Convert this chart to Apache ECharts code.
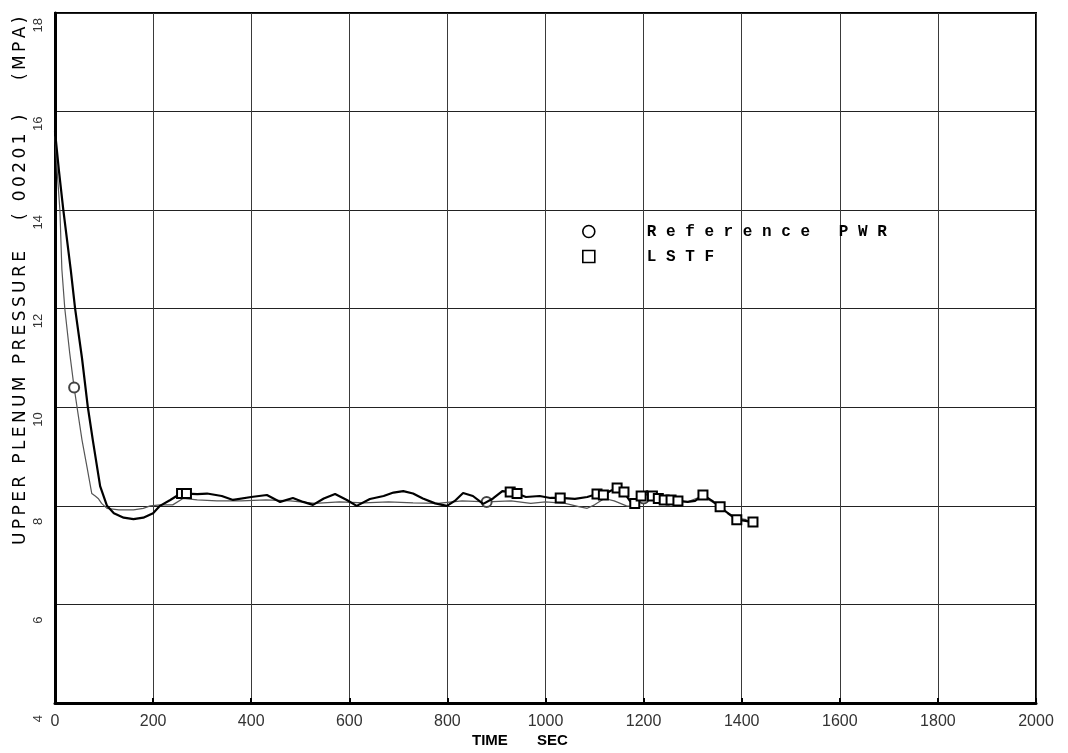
<!DOCTYPE html>
<html>
<head>
<meta charset="utf-8">
<title>Upper plenum pressure</title>
<script src="https://cdn.jsdelivr.net/npm/echarts@6/dist/echarts.min.js"></script>
<style>
  html, body { margin: 0; padding: 0; background: #fff; }
  #chart { width: 1068px; height: 753px; }
</style>
</head>
<body>
<div id="chart"></div>
<script>
// Reference PWR calculation: time (s) and upper plenum pressure (MPa)
const pwrTime = [0, 5, 10, 14, 20, 30, 39, 45, 55, 65, 75, 82, 88, 95, 106, 130, 160, 180, 194, 215, 240,
  261, 290, 330, 380, 430, 480, 530, 580, 630, 680, 730, 780, 830, 880, 930, 970, 1000, 1040, 1070, 1085,
  1100, 1120, 1140, 1165, 1180, 1200, 1220, 1240, 1265, 1290, 1320, 1345, 1365, 1390, 1410];
const pwrPressure = [15.5, 14.7, 14.0, 12.8, 12.0, 11.1, 10.4, 10.0, 9.34, 8.8, 8.25, 8.2, 8.15, 8.05, 7.95, 7.92, 7.92, 7.95, 8.0, 8.02, 8.02,
  8.15, 8.12, 8.1, 8.1, 8.12, 8.1, 8.05, 8.08, 8.06, 8.08, 8.06, 8.05, 8.1, 8.08, 8.1, 8.05, 8.08, 8.05, 7.98, 7.95,
  8.02, 8.15, 8.1, 8.0, 7.98, 8.15, 8.15, 8.1, 8.1, 8.08, 8.2, 8.05, 7.9, 7.75, 7.72];
const pwrMarkers = [39, 880, 1200];

// LSTF experiment: time (s) and upper plenum pressure (MPa)
const lstfTime = [0, 8, 17, 32, 41, 55, 67, 77, 92, 106, 120, 140, 160, 180, 200, 214, 235, 248, 258, 268,
  290, 310, 340, 363, 400, 432, 459, 485, 506, 526, 548, 571, 595, 615, 642, 670, 690, 710, 730, 750, 775,
  799, 815, 832, 852, 873, 893, 912, 928, 942, 960, 988, 1010, 1030, 1060, 1085, 1105, 1118, 1132, 1146,
  1160, 1172, 1182, 1195, 1207, 1218, 1230, 1242, 1256, 1270, 1290, 1305, 1321, 1340, 1356, 1372, 1390,
  1405, 1423];
const lstfPressure = [15.6, 14.8, 14.0, 12.8, 12.0, 11.0, 10.0, 9.34, 8.4, 8.0, 7.85, 7.76, 7.73, 7.76, 7.85, 8.0, 8.12, 8.2, 8.25, 8.25,
  8.24, 8.25, 8.2, 8.12, 8.18, 8.22, 8.08, 8.16, 8.08, 8.02, 8.15, 8.24, 8.12, 8.0, 8.14, 8.2, 8.27, 8.3, 8.25, 8.15, 8.05,
  8.0, 8.1, 8.26, 8.2, 8.04, 8.15, 8.3, 8.28, 8.25, 8.18, 8.2, 8.16, 8.16, 8.14, 8.18, 8.24, 8.22, 8.3, 8.36,
  8.28, 8.1, 8.05, 8.2, 8.3, 8.2, 8.15, 8.12, 8.12, 8.1, 8.08, 8.1, 8.22, 8.1, 7.98, 7.85, 7.72,
  7.7, 7.67];
const lstfMarkers = [258, 268, 928, 942, 1030, 1105, 1118, 1146, 1160, 1182, 1195, 1218, 1230, 1242, 1256,
  1270, 1321, 1356, 1390, 1423];

const seriesNames = ['Reference PWR', 'LSTF'];
const timeTicks = { min: 0, max: 2000, step: 200 };
const pressureTicks = { min: 4, max: 18, step: 2 };

const axisTitleParts = ['UPPER PLENUM PRESSURE', '( 00201 )', '(MPA)'];
const timeTitle = 'TIME       SEC';

// thin space between letters gives the plotter-style spacing
const spaced = s => s.split('').join('\u2009');

function buildData(times, values, marks, symbol) {
  return times.map((t, i) => ({
    value: [t, values[i]],
    symbol: marks.includes(t) ? symbol : 'none'
  }));
}

const chart = echarts.init(document.getElementById('chart'), null, { renderer: 'canvas' });

const plotLeft = 55, plotTop = 13, plotRight = 32, plotBottom = 50;

chart.setOption({
  animation: false,
  backgroundColor: '#fff',
  grid: {
    left: plotLeft, top: plotTop, right: plotRight, bottom: plotBottom,
    show: true, borderColor: '#000', borderWidth: 2, backgroundColor: 'transparent'
  },
  legend: {
    orient: 'vertical',
    left: 577,
    top: 218,
    itemWidth: 12,
    itemHeight: 12,
    itemGap: 8,
    selectedMode: false,
    data: [
      { name: seriesNames[0], icon: 'circle' },
      { name: seriesNames[1], icon: 'rect' }
    ],
    itemStyle: { color: '#fff', borderColor: '#000', borderWidth: 1.6 },
    lineStyle: { width: 0 },
    formatter: name => name.split('').join(' '),
    textStyle: {
      fontFamily: 'Liberation Mono',
      fontWeight: 'bold',
      fontSize: 16,
      lineHeight: 17,
      color: '#000',
      padding: [0, 0, 0, 47]
    }
  },
  xAxis: {
    type: 'value',
    min: timeTicks.min, max: timeTicks.max, interval: timeTicks.step,
    axisLine: { show: true, lineStyle: { color: '#000', width: 3 } },
    axisTick: { show: true, inside: true, length: 5, lineStyle: { color: '#000', width: 2 } },
    axisLabel: {
      margin: 11,
      fontFamily: 'Liberation Sans',
      fontSize: 16,
      color: '#333',
      formatter: v => String(v)
    },
    splitLine: { show: true, lineStyle: { color: '#3a3a3a', width: 1 } }
  },
  yAxis: {
    type: 'value',
    min: pressureTicks.min, max: pressureTicks.max, interval: pressureTicks.step,
    axisLine: { show: true, lineStyle: { color: '#000', width: 3 } },
    axisTick: { show: false },
    axisLabel: {
      rotate: 90,
      margin: 10,
      align: 'right',
      formatter: v => '{v|' + v + '}{s' + String(v).length + '|}',
      rich: {
        v: { fontFamily: 'Liberation Sans', fontSize: 13, color: '#333' },
        s1: { width: 12 },
        s2: { width: 5 }
      }
    },
    splitLine: { show: true, lineStyle: { color: '#222', width: 1 } }
  },
  graphic: [
    {
      type: 'text', x: 21, y: 545, rotation: Math.PI / 2,
      style: {
        text: spaced(axisTitleParts[0]), fontFamily: 'DejaVu Sans', fontSize: 17,
        fill: '#000', align: 'left', verticalAlign: 'middle'
      }
    },
    {
      type: 'text', x: 21, y: 220, rotation: Math.PI / 2,
      style: {
        text: spaced(axisTitleParts[1]), fontFamily: 'DejaVu Sans', fontSize: 17,
        fill: '#000', align: 'left', verticalAlign: 'middle'
      }
    },
    {
      type: 'text', x: 21, y: 80, rotation: Math.PI / 2,
      style: {
        text: spaced(axisTitleParts[2]), fontFamily: 'DejaVu Sans', fontSize: 17,
        fill: '#000', align: 'left', verticalAlign: 'middle'
      }
    },
    {
      type: 'text', x: 472, y: 741,
      style: {
        text: timeTitle, fontFamily: 'Liberation Sans', fontWeight: 'bold', fontSize: 15,
        fill: '#000', align: 'left', verticalAlign: 'middle'
      }
    }
  ],
  series: [
    {
      name: seriesNames[0],
      type: 'line',
      symbol: 'none',
      symbolSize: 10,
      showSymbol: true,
      z: 3,
      itemStyle: { color: '#444', borderWidth: 1.2 },
      lineStyle: { color: '#555', width: 1.2 },
      data: buildData(pwrTime, pwrPressure, pwrMarkers, 'emptyCircle')
    },
    {
      name: seriesNames[1],
      type: 'line',
      symbol: 'none',
      symbolSize: 9,
      showSymbol: true,
      z: 4,
      itemStyle: { color: '#000', borderWidth: 1.4 },
      lineStyle: { color: '#000', width: 2.2 },
      data: buildData(lstfTime, lstfPressure, lstfMarkers, 'emptyRect')
    }
  ]
});
</script>
</body>
</html>
